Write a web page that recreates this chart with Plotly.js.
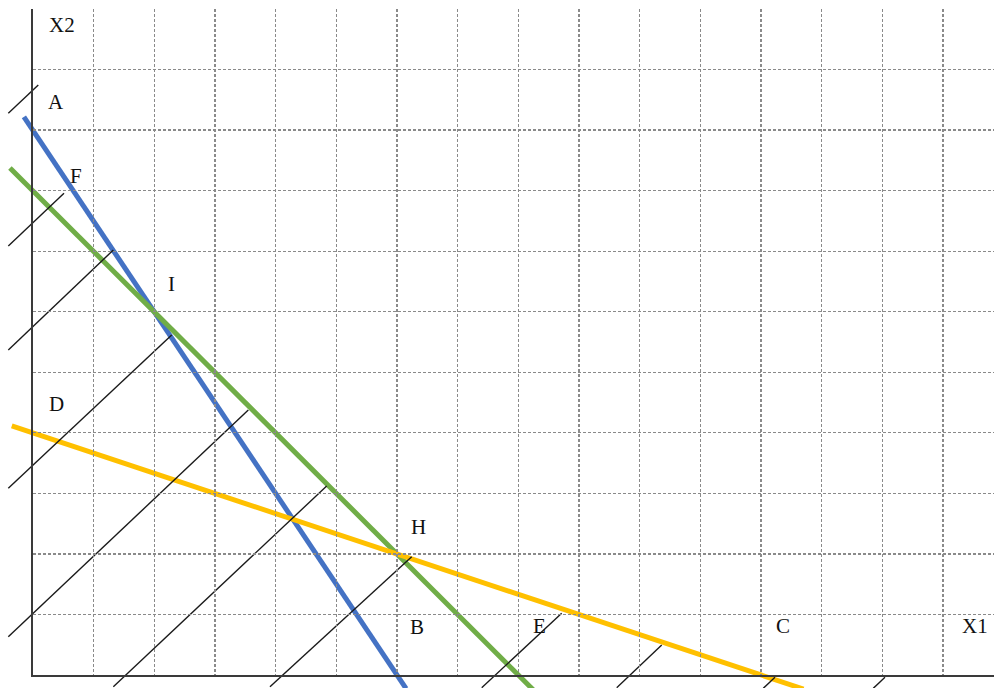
<!DOCTYPE html>
<html>
<head>
<meta charset="utf-8">
<script src="https://cdn.plot.ly/plotly-3.0.1.min.js"></script>
<style>
  html, body { margin: 0; padding: 0; background: #ffffff; }
  #chart { width: 994px; height: 688px; }
</style>
</head>
<body>
<div id="chart"></div>
<script>
// ---- Data (in grid units) ----
// Constraint lines (endpoints)
const blueX   = [-0.15, 6.15];
const blueY   = [9.225, -0.225];
const greenX  = [-0.38, 8.25];
const greenY  = [8.38, -0.25];
const yellowX = [-0.35, 12.7];
const yellowY = [4.117, -0.233];

// Hatch segments (start x, start y, end x, end y)
const hatchX0 = [-0.407, -0.407, -0.407, -0.407, -0.407, 1.324, 3.906, 7.396, 9.621, 12.037, 13.850];
const hatchY0 = [ 9.284,  7.091,  5.372,  3.086,  0.633, -0.193, -0.193, -0.210, -0.210, -0.220, -0.220];
const hatchX1 = [ 0.087,  0.511,  1.324,  2.286,  3.549, 4.841, 6.242, 8.714, 10.363, 12.230, 14.043];
const hatchY1 = [ 9.752,  7.962,  7.025,  5.620,  4.380, 3.124, 1.955, 1.020, 0.496, -0.038, -0.038];

// Point / axis labels
const labelText = ["X2", "A", "F", "I", "D", "H", "B", "E", "C", "X1"];
const labelX    = [0.478, 0.387, 0.709, 2.291, 0.387, 6.354, 6.337, 8.348, 12.354, 15.519];
const labelY    = [10.744, 9.479, 8.248, 6.462, 4.479, 2.454, 0.793, 0.810, 0.810, 0.810];

// Grid extent
const gridXMax = 15.84;
const gridYMax = 11;

// ---- Build traces ----
const traces = [];

// invisible trace to instantiate the grid subplot
traces.push({
  x: [0], y: [0], xaxis: 'x2', yaxis: 'y2', mode: 'markers',
  marker: {opacity: 0}, hoverinfo: 'skip', showlegend: false
});

traces.push({x: blueX, y: blueY, mode: 'lines', line: {color: '#4472C4', width: 5}, showlegend: false, hoverinfo: 'skip'});
traces.push({x: greenX, y: greenY, mode: 'lines', line: {color: '#70AD47', width: 5}, showlegend: false, hoverinfo: 'skip'});
traces.push({x: yellowX, y: yellowY, mode: 'lines', line: {color: '#FFC000', width: 5}, showlegend: false, hoverinfo: 'skip'});

// hatch lines as one trace with gaps
const hx = [], hy = [];
for (let i = 0; i < hatchX0.length; i++) {
  hx.push(hatchX0[i], hatchX1[i], null);
  hy.push(hatchY0[i], hatchY1[i], null);
}
traces.push({x: hx, y: hy, mode: 'lines', line: {color: '#1a1a1a', width: 1.4}, connectgaps: false, showlegend: false, hoverinfo: 'skip'});

const annotations = labelText.map((t, i) => ({
  x: labelX[i], y: labelY[i], xref: 'x', yref: 'y',
  text: t, showarrow: false,
  font: {family: 'Liberation Serif, Times New Roman, serif', size: 21, color: '#111111'},
  xanchor: 'center', yanchor: 'middle'
}));

const W = 994, H = 688;
const layout = {
  width: W, height: H, autosize: false,
  margin: {l: 0, r: 0, t: 0, b: 0, pad: 0},
  paper_bgcolor: '#ffffff', plot_bgcolor: 'rgba(0,0,0,0)',
  showlegend: false,
  xaxis: {
    range: [-33 / 60.67, (W - 33) / 60.67], domain: [0, 1],
    showgrid: false, zeroline: false, showline: false, showticklabels: false, ticks: '', fixedrange: true
  },
  yaxis: {
    range: [(675 - H) / 60.5, 675 / 60.5], domain: [0, 1],
    showgrid: false, zeroline: false, showline: false, showticklabels: false, ticks: '', fixedrange: true
  },
  xaxis2: {
    range: [0, gridXMax], domain: [33 / W, 1], anchor: 'y2',
    dtick: 1, tick0: 0, showgrid: true, gridcolor: '#8a8a8a', gridwidth: 1.2, griddash: '3px,2px',
    zeroline: false, showline: true, linecolor: '#3a3a3a', linewidth: 2,
    showticklabels: false, ticks: '', fixedrange: true
  },
  yaxis2: {
    range: [0, gridYMax], domain: [(H - 675) / H, (H - 9) / H], anchor: 'x2',
    dtick: 1, tick0: 0, showgrid: true, gridcolor: '#8a8a8a', gridwidth: 1.2, griddash: '3px,2px',
    zeroline: false, showline: true, linecolor: '#3a3a3a', linewidth: 2,
    showticklabels: false, ticks: '', fixedrange: true
  },
  annotations: annotations
};

Plotly.newPlot('chart', traces, layout, {displayModeBar: false, staticPlot: true});
</script>
</body>
</html>
